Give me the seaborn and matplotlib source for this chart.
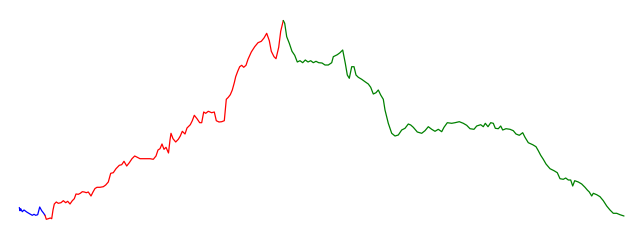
import numpy as np
import pandas as pd
import matplotlib
matplotlib.use("Agg")
import matplotlib.pyplot as plt
import seaborn as sns

# Readings (x position, level measured downward from top)
blue_x = [19.3, 20, 20.7, 22.3, 24, 26.7, 30, 32.3, 34, 35.7, 37.7, 39.7, 41.7, 43.7, 45]
blue_y = [207.5, 210.7, 208.7, 211.7, 210, 212, 214, 215.3, 214.3, 215.3, 214.7, 207, 210.7, 213.3, 215.3]

red_x = [45, 46.3, 48.3, 50.3, 51.7, 53, 54.3, 56.3, 58.3, 61, 63.3, 65.7, 67.7, 70, 72.3, 74.3,
         76, 78.3, 80.3, 82.3, 84.3, 86.3, 88.3, 91, 93, 95, 97, 100, 103.3, 105.7, 108.3, 110.7,
         113.3, 116, 119.3, 121.7, 124, 126.7, 129.3, 132, 134.7, 137.3, 140, 145, 150, 153.3,
         156, 158, 160, 162, 164, 166, 168.5, 170, 171, 173, 175.7, 178.3, 180.3, 182.3, 185,
         187, 190.3, 192.3, 194.3, 197, 199.7, 201.7, 203.7, 205.7, 208.3, 211.7, 214.3, 216.3,
         219, 221.7, 224.3, 226.3, 228.3, 230.3, 232.3, 234.3, 235.7, 237.7, 239.7, 241.7,
         243.7, 246, 248, 251.3, 254.7, 258, 261.3, 264, 266.7, 269.3, 271.3, 274, 276, 278.7,
         280.7, 283.3]
red_y = [215.3, 219.3, 218.7, 218, 218.7, 210, 204, 202, 203.3, 202.7, 200.7, 202.7, 201.3, 204,
         200.7, 198.7, 194, 194.3, 193.3, 191.7, 192, 192.7, 192, 196, 192, 188.5, 187.3, 187.3,
         186.7, 185, 182, 173.3, 172.7, 168.7, 165.3, 164.7, 161.3, 166, 162.7, 158.7, 156,
         157.3, 158.7, 158.7, 158.7, 159.3, 156, 150, 148.7, 144, 149.3, 147.3, 153, 140, 133.3,
         138.7, 142, 139.3, 136, 131.3, 134, 128, 124.7, 120.7, 115.3, 118.7, 122.7, 122.7, 112,
         113.3, 111.3, 112.7, 112, 120.7, 122, 121.7, 120.7, 99.3, 97.3, 94.7, 90, 82.7, 76.7,
         71.3, 66.7, 65.3, 67.3, 65.3, 59.3, 52, 46.7, 42.7, 41.3, 38, 33.3, 40.7, 51.3, 56.7,
         58.7, 47.3, 31.3, 20.5]

green_x = [283.3, 284.7, 286.7, 289.3, 292, 294.7, 297.3, 300, 302.7, 305.3, 308, 310.7, 313.3,
           316, 318.7, 322, 325, 328.3, 331.7, 333.3, 337.3, 340, 342.7, 345.3, 347.3, 349.3,
           351.7, 354, 356, 358.3, 361.7, 365, 368.3, 370.7, 373.3, 376, 378.3, 380.7, 383.3,
           385, 388.3, 391.7, 395, 398.3, 401.7, 405, 408.3, 410.7, 413.3, 417.3, 421.7, 425,
           428.3, 431.7, 435, 438.3, 441.7, 444, 447.3, 451.7, 455, 459.3, 463.3, 466.7, 470,
           474, 476.7, 480.7, 483.3, 485.3, 488, 490.7, 493.3, 495.3, 498.3, 500.7, 502.7, 506,
           510, 513.3, 516, 519.3, 522.7, 525, 528.3, 532.7, 536, 538.3, 540.7, 543.3, 546, 550,
           554, 557.3, 560, 563.3, 565.7, 568.3, 570.7, 572.7, 574.7, 578.3, 581.7, 585, 587.3,
           589.3, 591.7, 593.3, 596.7, 600, 603.3, 606.7, 610, 613.3, 616.7, 620, 624]
green_y = [20.5, 23.3, 36.7, 43.3, 51.3, 55.3, 62, 60.7, 62.7, 60, 62, 60.7, 62.7, 61.3, 62.7, 63,
           65, 65, 62.7, 56.7, 54.7, 52.7, 50, 63.3, 75, 78.3, 66.7, 66.7, 75, 77.3, 79.3, 81.7,
           84, 87.3, 94, 92.7, 90, 95, 99.3, 110, 123.3, 133.3, 136, 135, 130, 128.3, 124, 125,
           127.3, 132, 133.3, 130.7, 126.7, 129.3, 131.3, 129.3, 131.7, 127.3, 122.7, 123.3,
           122.7, 121.7, 123.3, 125.3, 128.7, 129.3, 126, 124.7, 126.7, 123.3, 126.7, 122.7,
           123.3, 128.3, 128.7, 126, 130, 128.7, 129.3, 130.7, 134, 135.3, 132.7, 137.3, 142.7,
           144.7, 146.7, 150.7, 155.3, 159.3, 164, 168.7, 170.7, 172.7, 178.7, 179.3, 178, 180,
           180, 186, 180.7, 182, 184, 187.3, 190, 192, 196, 193.3, 194.7, 196.7, 200.7, 206, 210,
           213.3, 213.3, 214.7, 216]

segments = ["blue", "red", "green"]
palette = {"blue": "blue", "red": "red", "green": "green"}

df = pd.concat([
    pd.DataFrame({"x": blue_x, "y": blue_y, "seg": "blue"}),
    pd.DataFrame({"x": red_x, "y": red_y, "seg": "red"}),
    pd.DataFrame({"x": green_x, "y": green_y, "seg": "green"}),
], ignore_index=True)

sns.set_theme(style="white")
fig = plt.figure(figsize=(6.4, 2.4), dpi=100)
ax = fig.add_axes([0, 0, 1, 1])
sns.lineplot(data=df, x="x", y="y", hue="seg", hue_order=segments, palette=palette,
             estimator=None, sort=False, linewidth=0.9, legend=False, ax=ax)
ax.set_xlim(0, 640)
ax.set_ylim(240, 0)
ax.set_axis_off()
fig.savefig("out.png", dpi=100, facecolor="white")
